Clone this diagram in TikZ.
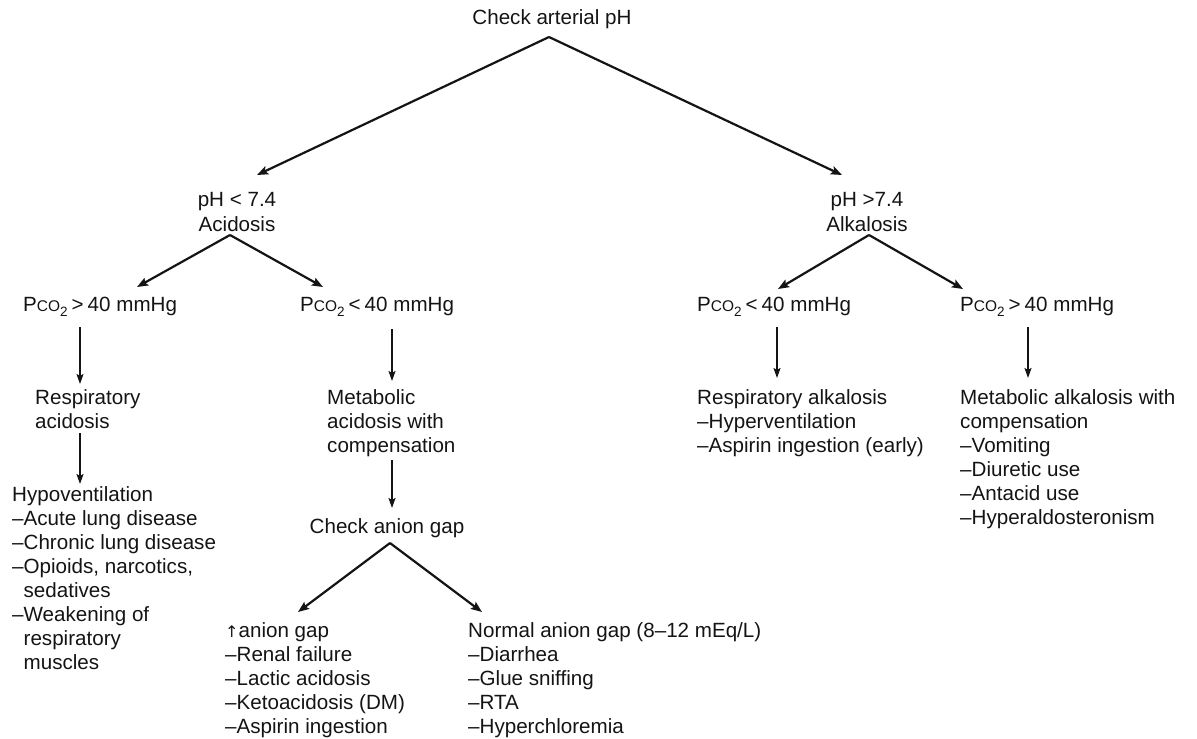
\documentclass[tikz,border=0pt]{standalone}
\usepackage{fontspec}
\setmainfont{Liberation Sans}
\newfontfamily\dejavu{DejaVu Sans}
\usetikzlibrary{arrows.meta}
\newcommand\pco{P{\fontsize{15.5}{15.5}\selectfont CO}\raisebox{-4.5pt}{\fontsize{13.5}{13.5}\selectfont 2}\kern4pt}
\newcommand\ind{\phantom{–}}
\definecolor{ink}{HTML}{141414}
\begin{document}
\begin{tikzpicture}[x=1pt,y=-1pt,
  txt/.style={inner sep=0pt, text=ink, font=\fontsize{20.6}{24.1}\selectfont},
  blk/.style={txt, align=left, anchor=north west},
  ctr/.style={txt, align=center},
  darr/.style={draw=ink, line width=2.2pt, -{Stealth[length=11pt,width=8.5pt,inset=2pt]}},
  varr/.style={draw=ink, line width=1.8pt, -{Stealth[length=10pt,width=7pt,inset=2pt]}}]
\useasboundingbox (0,0) rectangle (1197,739);

% nodes
\node[ctr] (top) at (552,19) {Check arterial pH};
\node[ctr] (acid) at (237,212) {pH < 7.4\\Acidosis};
\node[ctr] (alk) at (867,212) {pH >7.4\\Alkalosis};

\node[txt, anchor=west] (pcoA) at (23,307) {\pco>\kern4pt40 mmHg};
\node[txt, anchor=west] (pcoB) at (300,307) {\pco<\kern4pt40 mmHg};
\node[txt, anchor=west] (pcoC) at (697,307) {\pco<\kern4pt40 mmHg};
\node[txt, anchor=west] (pcoD) at (960,307) {\pco>\kern4pt40 mmHg};

\node[blk] (racid) at (35,389) {Respiratory\\acidosis};
\node[blk] (hypo) at (12,486) {Hypoventilation\\–Acute lung disease\\–Chronic lung disease\\–Opioids, narcotics,\\\ind sedatives\\–Weakening of\\\ind respiratory\\\ind muscles};
\node[blk] (macid) at (327,389) {Metabolic\\acidosis with\\compensation};
\node[ctr] (gap) at (387,528) {Check anion gap};
\node[blk] (hgap) at (225,622) {{\dejavu\fontsize{16}{16}\selectfont ↑}anion gap\\–Renal failure\\–Lactic acidosis\\–Ketoacidosis (DM)\\–Aspirin ingestion};
\node[blk] (ngap) at (468,622) {Normal anion gap (8–12 mEq/L)\\–Diarrhea\\–Glue sniffing\\–RTA\\–Hyperchloremia};
\node[blk] (ralk) at (697,389) {Respiratory alkalosis\\–Hyperventilation\\–Aspirin ingestion (early)};
\node[blk] (malk) at (960,389) {Metabolic alkalosis with\\compensation\\–Vomiting\\–Diuretic use\\–Antacid use\\–Hyperaldosteronism};

% connector end points
\coordinate (t0) at (549,37);
\coordinate (tA) at (257,175);
\coordinate (tB) at (842,175);
\coordinate (a0) at (230,235);
\coordinate (aL) at (137,287);
\coordinate (aR) at (323,287);
\coordinate (k0) at (869,235);
\coordinate (kL) at (778,289);
\coordinate (kR) at (963,289);
\coordinate (g0) at (390,543);
\coordinate (gL) at (298,612);
\coordinate (gR) at (482,612);

\draw[darr] (t0) -- (tA);
\draw[darr] (t0) -- (tB);
\draw[darr] (a0) -- (aL);
\draw[darr] (a0) -- (aR);
\draw[darr] (k0) -- (kL);
\draw[darr] (k0) -- (kR);
\draw[darr] (g0) -- (gL);
\draw[darr] (g0) -- (gR);

\coordinate (v1a) at (80,327);  \coordinate (v1b) at (80,384);
\coordinate (v2a) at (80,433);  \coordinate (v2b) at (80,484);
\coordinate (v3a) at (392,329); \coordinate (v3b) at (392,381);
\coordinate (v4a) at (392,460); \coordinate (v4b) at (392,508);
\coordinate (v5a) at (777,327); \coordinate (v5b) at (777,378);
\coordinate (v6a) at (1028,327); \coordinate (v6b) at (1028,378);
\draw[varr] (v1a) -- (v1b);
\draw[varr] (v2a) -- (v2b);
\draw[varr] (v3a) -- (v3b);
\draw[varr] (v4a) -- (v4b);
\draw[varr] (v5a) -- (v5b);
\draw[varr] (v6a) -- (v6b);
\end{tikzpicture}
\end{document}
